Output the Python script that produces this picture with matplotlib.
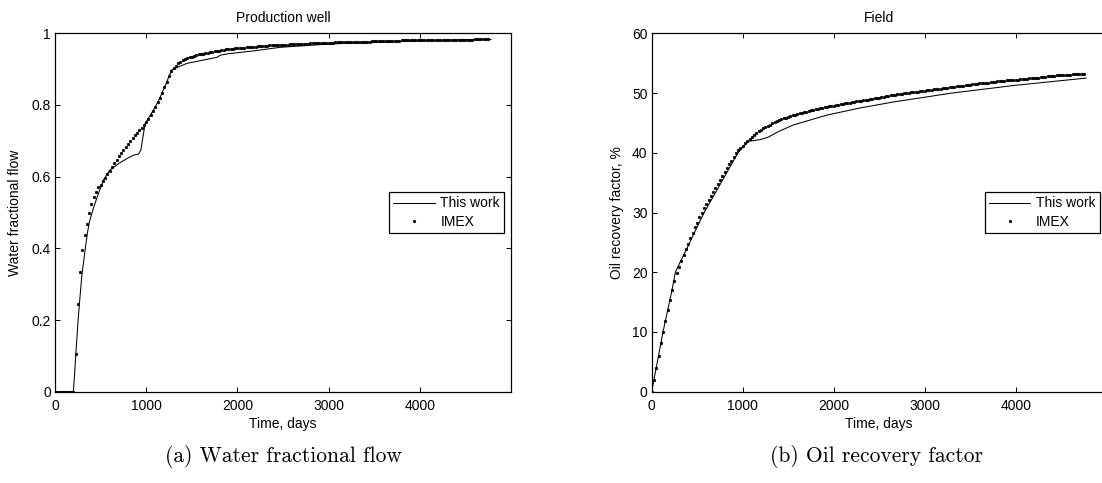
import matplotlib
matplotlib.use("Agg")
import matplotlib.pyplot as plt

plt.rcParams['font.family'] = ['Liberation Sans', 'DejaVu Sans']
plt.rcParams['font.size'] = 10

# "This work" curves
wf_days = [0, 201, 215, 231, 256, 293, 330, 355, 377, 421, 476, 531, 600, 700, 800, 860,
           915, 941, 989, 1050, 1100, 1150, 1200, 1250, 1282, 1350, 1447, 1600, 1777, 1813,
           1900, 2179, 2473, 3000, 3500, 4000, 4500, 4780]
wf_this = [0, 0, 0.05, 0.116, 0.209, 0.321, 0.395, 0.442, 0.474, 0.512, 0.553, 0.59, 0.618,
           0.637, 0.652, 0.66, 0.663, 0.674, 0.749, 0.773, 0.795, 0.82, 0.849, 0.88, 0.898,
           0.906, 0.916, 0.924, 0.933, 0.939, 0.943, 0.951, 0.961, 0.970, 0.975, 0.979,
           0.982, 0.983]

rf_days = [0, 124, 223, 260, 300, 400, 500, 577, 700, 800, 948, 1058, 1100, 1190, 1278,
           1400, 1556, 1923, 2289, 2655, 3022, 3300, 4000, 4773]
rf_this = [0, 10, 17, 20, 21.3, 24.4, 27.6, 30, 33.3, 36.0, 40, 41.9, 42.0, 42.2, 42.6,
           43.6, 44.65, 46.3, 47.5, 48.5, 49.35, 50.0, 51.3, 52.5]

# IMEX report times (every 25 days)
imex_days = [
    0, 25, 50, 75, 100, 125, 150, 175, 200, 225, 250, 275, 300, 325, 350, 375, 400, 425, 450, 475,
    500, 525, 550, 575, 600, 625, 650, 675, 700, 725, 750, 775, 800, 825, 850, 875, 900, 925, 950, 975,
    1000, 1025, 1050, 1075, 1100, 1125, 1150, 1175, 1200, 1225, 1250, 1275, 1300, 1325, 1350, 1375,
    1400, 1425, 1450, 1475,
    1500, 1525, 1550, 1575, 1600, 1625, 1650, 1675, 1700, 1725, 1750, 1775, 1800, 1825, 1850, 1875,
    1900, 1925, 1950, 1975,
    2000, 2025, 2050, 2075, 2100, 2125, 2150, 2175, 2200, 2225, 2250, 2275, 2300, 2325, 2350, 2375,
    2400, 2425, 2450, 2475,
    2500, 2525, 2550, 2575, 2600, 2625, 2650, 2675, 2700, 2725, 2750, 2775, 2800, 2825, 2850, 2875,
    2900, 2925, 2950, 2975,
    3000, 3025, 3050, 3075, 3100, 3125, 3150, 3175, 3200, 3225, 3250, 3275, 3300, 3325, 3350, 3375,
    3400, 3425, 3450, 3475,
    3500, 3525, 3550, 3575, 3600, 3625, 3650, 3675, 3700, 3725, 3750, 3775, 3800, 3825, 3850, 3875,
    3900, 3925, 3950, 3975,
    4000, 4025, 4050, 4075, 4100, 4125, 4150, 4175, 4200, 4225, 4250, 4275, 4300, 4325, 4350, 4375,
    4400, 4425, 4450, 4475,
    4500, 4525, 4550, 4575, 4600, 4625, 4650, 4675, 4700, 4725, 4750]

wf_imex = [
    0, 0, 0, 0, 0, 0, 0, 0, 0, 0.105, 0.245, 0.335, 0.394, 0.437, 0.468, 0.498, 0.524, 0.543, 0.558, 0.572,
    0.578, 0.588, 0.597, 0.607, 0.617, 0.627, 0.637, 0.647, 0.657, 0.667, 0.675, 0.683, 0.691, 0.699,
    0.707, 0.715, 0.722, 0.729, 0.737, 0.744,
    0.752, 0.762, 0.773, 0.784, 0.795, 0.807, 0.820, 0.834, 0.849, 0.864, 0.880, 0.894, 0.903, 0.910,
    0.916, 0.921, 0.925, 0.928, 0.931, 0.933,
    0.935, 0.937, 0.939, 0.941, 0.942, 0.943, 0.945, 0.946, 0.947, 0.948, 0.950, 0.951, 0.952, 0.953,
    0.954, 0.955, 0.956, 0.957, 0.957, 0.958,
    0.959, 0.959, 0.960, 0.960, 0.961, 0.962, 0.962, 0.963, 0.963, 0.964, 0.964, 0.965, 0.965, 0.965,
    0.966, 0.966, 0.966, 0.967, 0.967, 0.967,
    0.968, 0.968, 0.968, 0.969, 0.969, 0.969, 0.970, 0.970, 0.970, 0.971, 0.971, 0.971, 0.972, 0.972,
    0.972, 0.972, 0.973, 0.973, 0.973, 0.974,
    0.974, 0.974, 0.974, 0.975, 0.975, 0.975, 0.975, 0.975, 0.976, 0.976, 0.976, 0.976, 0.976, 0.977,
    0.977, 0.977, 0.977, 0.977, 0.977, 0.978,
    0.978, 0.978, 0.978, 0.978, 0.978, 0.979, 0.979, 0.979, 0.979, 0.979, 0.979, 0.979, 0.980, 0.980,
    0.980, 0.980, 0.980, 0.980, 0.980, 0.980,
    0.980, 0.980, 0.981, 0.981, 0.981, 0.981, 0.981, 0.981, 0.981, 0.981, 0.981, 0.982, 0.982, 0.982,
    0.982, 0.982, 0.982, 0.982, 0.982, 0.982,
    0.982, 0.982, 0.982, 0.982, 0.983, 0.983, 0.983, 0.983, 0.983, 0.983, 0.983]

rf_imex = [
    0, 2.0, 4.0, 6.0, 8.1, 10.0, 11.9, 13.7, 15.4, 17.0, 18.5, 19.9, 20.9, 21.9, 22.9, 23.9, 24.8, 25.7,
    26.6, 27.5,
    28.3, 29.2, 30.0, 30.7, 31.4, 32.1, 32.8, 33.4, 34.1, 34.8, 35.4, 36.1, 36.8, 37.4, 38.1, 38.7,
    39.3, 39.9, 40.4, 40.8,
    41.2, 41.6, 41.9, 42.3, 42.7, 43.0, 43.3, 43.6, 43.8, 44.1, 44.3, 44.5, 44.7, 44.9, 45.1, 45.3,
    45.5, 45.6, 45.8, 45.9,
    46.0, 46.2, 46.3, 46.4, 46.5, 46.6, 46.7, 46.8, 46.9, 47.0, 47.1, 47.2, 47.3, 47.4, 47.5, 47.55,
    47.65, 47.7, 47.8, 47.85,
    47.9, 48.0, 48.05, 48.1, 48.2, 48.25, 48.3, 48.4, 48.45, 48.55, 48.6, 48.65, 48.7, 48.8, 48.85,
    48.9, 49.0, 49.05, 49.1, 49.2,
    49.25, 49.3, 49.4, 49.45, 49.55, 49.6, 49.7, 49.75, 49.8, 49.85, 49.9, 49.95, 50.0, 50.05, 50.1,
    50.15, 50.2, 50.25, 50.3, 50.35,
    50.4, 50.45, 50.5, 50.55, 50.6, 50.65, 50.7, 50.75, 50.8, 50.85, 50.9, 50.95, 51.0, 51.05, 51.1,
    51.15, 51.2, 51.25, 51.3, 51.35,
    51.4, 51.45, 51.5, 51.55, 51.6, 51.65, 51.7, 51.7, 51.75, 51.8, 51.85, 51.9, 51.95, 52.0, 52.0,
    52.05, 52.1, 52.1, 52.15, 52.2,
    52.2, 52.25, 52.3, 52.35, 52.4, 52.4, 52.45, 52.5, 52.55, 52.6, 52.6, 52.65, 52.7, 52.75, 52.8,
    52.8, 52.85, 52.9, 52.95, 53.0,
    53.0, 53.05, 53.05, 53.1, 53.1, 53.15, 53.15, 53.2, 53.2, 53.25, 53.25]

x_ticks = [0, 1000, 2000, 3000, 4000]
wf_ticks = [0, 0.2, 0.4, 0.6, 0.8, 1]
wf_ticklabels = ['0', '0.2', '0.4', '0.6', '0.8', '1']
rf_ticks = [0, 10, 20, 30, 40, 50, 60]

W, H = 1102, 483
fig = plt.figure(figsize=(W / 100, H / 100), dpi=100)
ax1 = fig.add_axes([55 / W, (H - 391.7) / H, 456 / W, 358.4 / H])
ax2 = fig.add_axes([651.7 / W, (H - 391.7) / H, 455 / W, 358.4 / H])


def style(ax):
    for s in ax.spines.values():
        s.set_linewidth(0.9)
        s.set_color('k')
    ax.tick_params(direction='in', length=3.5, width=0.7, top=True, right=True,
                   labelsize=10, colors='k')
    ax.tick_params(axis='x', pad=5)
    ax.tick_params(axis='y', pad=3)
    ax.set_xlim(0, 5000)
    ax.set_xticks(x_ticks)
    ax.set_xlabel('Time, days', labelpad=3)


ax1.plot(wf_days, wf_this, color='k', lw=0.75, label='This work')
ax1.plot(imex_days, wf_imex, ls='none', marker='o', ms=1.8, mew=0.5, color='k', label='IMEX')
style(ax1)
ax1.set_ylim(0, 1)
ax1.set_yticks(wf_ticks)
ax1.set_yticklabels(wf_ticklabels)
ax1.set_ylabel('Water fractional flow', labelpad=7)
ax1.set_title('Production well', fontsize=10, pad=8)

ax2.plot(rf_days, rf_this, color='k', lw=0.75, label='This work')
ax2.plot(imex_days, rf_imex, ls='none', marker='o', ms=1.8, mew=0.5, color='k', label='IMEX')
style(ax2)
ax2.set_ylim(0, 60)
ax2.set_yticks(rf_ticks)
ax2.set_ylabel('Oil recovery factor, %', labelpad=6)
ax2.set_title('Field', fontsize=10, pad=8)

for ax in (ax1, ax2):
    leg = ax.legend(loc='center right', borderaxespad=0.5, fancybox=False, edgecolor='k',
                    framealpha=1, handlelength=3.0, handletextpad=0.4, labelspacing=0.3,
                    borderpad=0.3, fontsize=10)
    leg.get_frame().set_linewidth(0.9)

fig.text(283 / W, 1 - 456 / H, '(a) Water fractional flow', family='cmr10', fontsize=15.5,
         ha='center', va='center')
fig.text(877 / W, 1 - 456 / H, '(b) Oil recovery factor', family='cmr10', fontsize=15.5,
         ha='center', va='center')

fig.savefig('out.png', dpi=100)
